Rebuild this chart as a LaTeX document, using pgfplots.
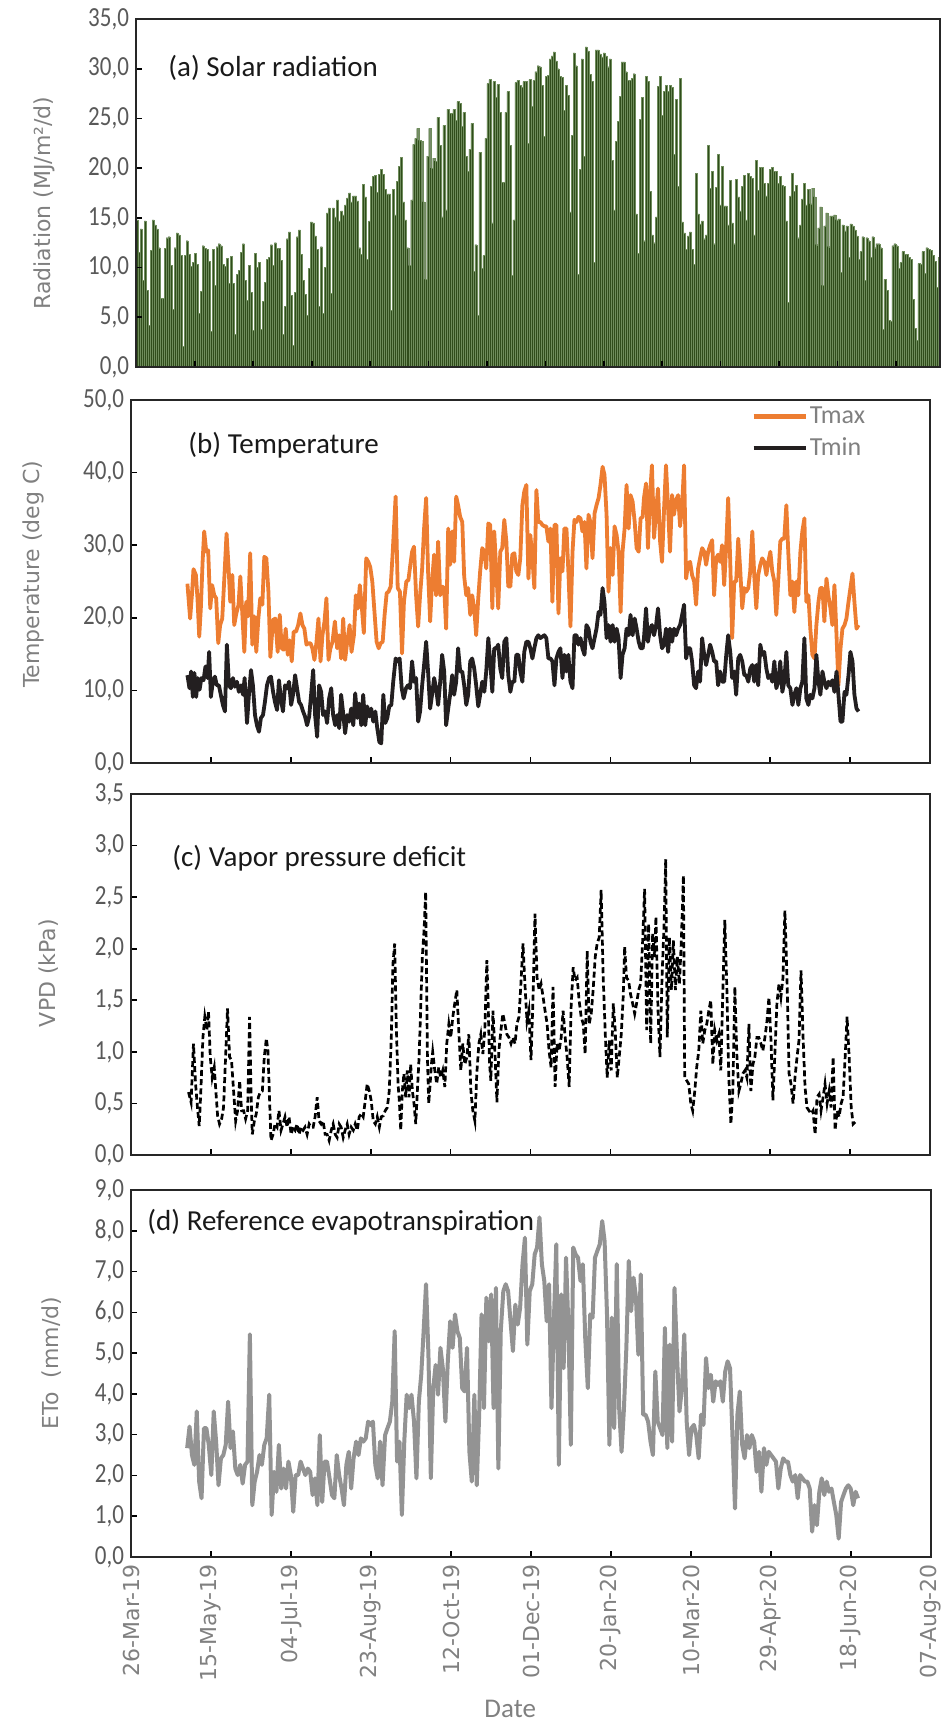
\documentclass[border=0pt]{standalone}
\usepackage{fontspec}
\setmainfont{Carlito}
\newfontfamily\dejavu{DejaVu Sans}
\usepackage{graphicx}
\usepackage{pgfplots}
\pgfplotsset{compat=1.18}
\definecolor{tickgray}{HTML}{595959}
\definecolor{labgray}{HTML}{808080}
\definecolor{bargreen}{HTML}{304D1B}
\definecolor{baredge}{HTML}{6F8D5C}
\definecolor{tmaxc}{HTML}{ED7D31}
\definecolor{tminc}{HTML}{231F20}
\definecolor{etoc}{HTML}{939393}
\definecolor{framec}{HTML}{262626}
\pgfplotsset{
  myaxis/.style={
    scale only axis,
    anchor=north west,
    axis line style={draw=framec, line width=1pt},
    tick style={draw=black, line width=0.8pt},
    major tick length=3pt,
    tick align=inside,
    tick pos=left,
    yticklabel style={font=\fontsize{11.5}{13}\selectfont, text=tickgray},
    yticklabel={\scalebox{1}[1.2]{\pgfmathprintnumber{\tick}}},
    /pgf/number format/fixed,
    /pgf/number format/fixed zerofill,
    /pgf/number format/precision=1,
    /pgf/number format/use comma,
    /pgf/number format/assume math mode=true,
    ylabel style={font=\dejavu\fontsize{11}{13}\selectfont, text=labgray, anchor=center},
    ymin=0,
  },
  dateaxis/.style={
    xmin=0, xmax=500,
    xtick={0,50,...,500},
  },
}
\newcommand{\ttl}{\fontsize{14.5}{17}\selectfont\color{black!90}}
\begin{document}
\begin{tikzpicture}
\path[use as bounding box] (0,0) rectangle (471.5pt,-861.5pt);

% ---------------- (a) Solar radiation
\begin{axis}[myaxis, at={(68pt,-9.5pt)}, width=402pt, height=174pt,
  xmin=-0.5, xmax=400.5, ymax=35, ytick={0,5,...,35},
  xtick={28.9,58.0,87.2,116.3,145.4,174.6,203.7,232.8,261.9,291.1,320.2,349.3,378.5},
  xticklabels={}, axis on top,
  ylabel={Radiation (MJ/m²/d)},
  ylabel style={at={(axis description cs:-0.114,0.471)}}]
\addplot[ybar, bar width=1, fill=bargreen, draw=baredge, line width=0.18pt] table[header=false, x expr=\coordindex, y index=0, row sep=\\] {
14.8\\11.5\\13.9\\8.7\\14.7\\7.7\\4.2\\11.7\\14.8\\14.3\\
13.9\\12\\6.9\\6.9\\11.9\\13\\13.1\\10.2\\5.8\\12\\
13.5\\13.3\\11.2\\2.1\\11.2\\12.7\\11.3\\10.1\\10.5\\11.4\\
10.3\\5.4\\7.6\\12.2\\11.9\\11.8\\10.6\\3.6\\11.8\\8.2\\
12.1\\12.4\\12.2\\10.3\\10.1\\10.9\\8.4\\11.1\\8.4\\3.3\\
9.3\\9.7\\11.5\\12.4\\8.7\\6.7\\10.2\\7.5\\3.7\\11.4\\
10\\10.5\\3.8\\6.6\\8.5\\10.8\\11\\12.3\\10.2\\12.5\\
11.9\\11.9\\10.7\\3.3\\6.1\\12.9\\13.6\\7.2\\2.2\\7.5\\
13.1\\13.8\\11.3\\8.7\\7.3\\5.2\\9.9\\14.6\\14.5\\13.2\\
11.8\\6.1\\12.1\\5.4\\10\\15.5\\16\\7.4\\16\\15.1\\
16.8\\14.7\\15.7\\15.3\\16.3\\17\\17.5\\16.6\\17.2\\17.2\\
16.7\\12\\11.3\\18.4\\17.1\\10.8\\14.7\\18.2\\19.2\\19.3\\
17.6\\19.4\\19.9\\19.4\\17.9\\17.4\\17.4\\5.7\\17.9\\15.3\\
18.7\\20.2\\21.1\\
16.6\\14.8\\12\\10.2\\16.8\\22.4\\23\\24\\22.8\\22.7\\
16.6\\8.8\\21.2\\24\\20\\21\\20.7\\25.1\\22.3\\15.1\\
24.3\\15.8\\25.9\\25.5\\25.5\\25.9\\24.8\\26.7\\26.5\\24.2\\
25.6\\21.2\\19.7\\21.9\\24.5\\9.6\\12.3\\5.2\\21.6\\9.9\\
11.2\\23\\28.5\\28.9\\14.5\\28.7\\27.1\\28.4\\25.6\\18.6\\
18.6\\25.6\\27.7\\22.3\\9.2\\14.8\\28.6\\28.8\\28.3\\28.1\\
28.7\\28.7\\22.5\\28.9\\26.2\\28.8\\29.7\\30.3\\30.2\\28.3\\
23.2\\29.2\\29.3\\31\\31.3\\31.7\\30.8\\30\\29.2\\29.1\\
25.8\\28.3\\27.3\\15.6\\23.3\\31.6\\30.3\\9.3\\19.9\\31\\
21.2\\32.2\\31.8\\29.4\\28.7\\10.5\\31.9\\31.9\\31.5\\31.2\\
31.6\\31.3\\30.2\\31\\20.8\\15.8\\22.7\\24.7\\27.2\\30.7\\
30.7\\29.7\\28.8\\28.8\\29\\29.5\\15.4\\11.4\\24.9\\27.1\\
12.7\\29.2\\28.7\\17.7\\13.3\\12.5\\15.1\\28.2\\29.2\\25.3\\
27.7\\28.3\\
27.7\\28.3\\28.1\\21.4\\26.9\\18.2\\29\\14.6\\13.5\\11.8\\
13.2\\13.6\\11.8\\10.3\\19.5\\15.4\\14.4\\14.7\\12.9\\13.3\\
22.3\\18\\19.7\\12.4\\18.1\\21.4\\16.3\\20.2\\16.2\\16.2\\
14.3\\18.8\\14.5\\12.4\\18.9\\17.1\\15.7\\18.2\\19.3\\14.8\\
19.5\\19.2\\19\\13.3\\20.8\\17.8\\20.1\\20.1\\18.5\\17.2\\
18.5\\19.9\\20.1\\19.7\\19.7\\18.5\\19.2\\18.3\\18.2\\14.7\\
6.5\\17.2\\19.5\\17.7\\18.3\\13\\14.3\\16.9\\18.5\\16.3\\
17.9\\16.4\\18\\17.1\\12.3\\14\\16.1\\8.2\\14.2\\15.5\\
12.1\\15.2\\15.2\\15.3\\14.8\\14.9\\9.5\\14.3\\13.7\\14.2\\
11\\14.4\\14.2\\13.8\\13.2\\10.8\\11.6\\13.1\\8.7\\13\\
12.7\\11\\13.1\\12\\12.4\\12.4\\12\\3.8\\8.8\\7.7\\
4.7\\4.6\\12.2\\12.4\\12.2\\9.9\\10.5\\11.6\\11.3\\11.3\\
11\\10.8\\6.8\\3.9\\2.7\\10.4\\10.3\\11.6\\9.4\\12\\
11.8\\11.7\\11.2\\10.6\\8\\11\\
};
\end{axis}
\node[anchor=west, inner sep=0pt] at (84pt,-34pt) {\ttl (a) Solar radiation};

% ---------------- (b) Temperature
\begin{axis}[myaxis, dateaxis, at={(65.5pt,-200pt)}, width=399.5pt, height=181.5pt,
  ymax=50, ytick={0,10,...,50}, xticklabels={},
  ylabel={Temperature (deg C)},
  ylabel style={at={(axis description cs:-0.1227,0.52)}},
  legend style={at={(axis description cs:0.776,0.988)}, anchor=north west, draw=none, fill=none,
    font=\fontsize{13}{14}\selectfont, text=labgray, row sep=3.5pt, inner sep=0pt,
    nodes={inner sep=1pt}},
  legend image code/.code={\draw[#1, line width=2.2pt] (0pt,0pt) -- (26pt,0pt);},
  legend cell align=left]
\addplot[tmaxc, line width=1.9pt, line join=round] coordinates {
(35.3,24.7)(37.0,19.9)(38.1,23.1)(39.1,26.7)(40.6,25.9)(41.6,22.7)(42.7,17.4)(43.7,21.3)(44.8,27.7)(45.8,31.9)(47.1,29.1)(48.3,29.3)(49.6,21.3)(50.8,24.5)(52.1,23.1)(53.3,22.7)(54.6,16.5)(55.8,19)(57.1,19.9)(58.5,25.9)(59.8,31.6)(61.1,26.8)(62.1,22.2)(63.4,25.9)(64.6,19)(65.9,20.6)(67.3,21.8)(68.4,25.7)(69.6,20.8)(70.9,15.3)(72.1,22.2)(73.2,20.2)(74.6,28.9)(75.9,16.3)(77.2,20.2)(78.4,15.3)(79.7,19.9)(80.9,22.7)(82.2,21.8)(83.4,28.4)(84.7,28.2)(86.0,23.6)(87.2,14.6)(88.9,19.7)(90.3,19.9)(91.8,15.3)(93.1,20.4)(94.3,15.8)(95.6,15.6)(96.8,18.5)(98.1,14.9)(99.3,16.9)(100.6,14)(101.8,18.1)(103.3,18.1)(104.6,19)(106.0,20.6)(107.3,19)(108.5,18.5)(109.8,16.3)(111.0,16.5)(112.3,16.5)(113.5,15.8)(114.8,14.2)(116.1,16.7)(117.3,19.9)(118.6,14)(119.8,17.6)(121.1,19.5)(122.3,22.7)(123.6,14.2)(124.8,15.8)(126.1,16.7)(127.6,19.5)(129.0,15.8)(130.3,17.6)(131.5,14.4)(132.8,19.9)(134.0,14.2)(135.3,16.7)(136.8,19)(138.0,15.3)(139.5,17.6)(140.7,23.1)(142.0,21.3)(143.2,24.5)(144.5,21.3)(145.7,17.9)(147.2,28.2)(148.5,27.7)(149.7,27)(151.0,25)(152.2,21.3)(153.7,16.7)(155.0,15.8)(156.2,16.5)(157.5,16.7)(158.7,20.4)(160.0,23.4)(161.2,23.6)(162.5,24.3)(163.7,28.7)(165.6,36.7)(166.9,24.1)(168.3,23.6)(169.6,15.1)(170.8,22.2)(172.3,25)(173.6,25.2)(174.8,27.3)
(175.9,29.1)(177.1,29.8)(178.4,23.1)(179.7,18.8)(180.9,23.1)(182.2,26.8)(183.4,32.3)(184.7,36.5)(185.9,26.4)(187.2,19.5)(188.4,25)(189.7,28.7)(190.9,23.1)(192.2,30.5)(193.5,23.1)(194.7,24.3)(196.0,24.1)(197.2,18.5)(198.5,32.3)(199.7,27.3)(201.0,31.9)(202.2,27.7)(203.5,36.7)(204.7,35.5)(206.0,33.9)(207.3,33.2)(208.5,25.7)(209.8,23.1)(211.0,24.1)(212.3,20.4)(213.5,23.1)(214.8,21.3)(216.0,17.6)(217.3,22.7)(218.5,26.4)(219.8,29.6)(221.1,29.1)(222.3,26.8)(223.6,33)(224.8,32.8)(226.1,21.3)(227.3,31.9)(228.6,26.4)(229.8,21.3)(231.1,29.1)(232.3,29.6)(233.6,33.5)(234.9,30.5)(236.1,24.3)(237.4,24.3)(238.6,28.7)(239.9,28.9)(241.1,26.4)(242.4,25.9)(243.6,28.2)(244.9,35.5)(246.1,37.4)(247.4,38.3)(248.7,25.4)(249.9,31.4)(251.2,28.2)(252.4,24.1)(253.7,37.6)(254.9,33.2)(256.2,33.2)(257.4,32.8)(258.7,32.6)(259.9,32.6)(261.2,30.5)(262.5,32.3)(263.7,22.2)(265.0,32.8)(266.2,32.8)(267.5,20.6)(268.7,28.2)(270.0,26.4)(271.2,32.3)(272.5,32.3)(273.7,26.4)(275.0,18.8)(276.3,29.1)(277.5,33.5)(278.8,33.2)(280.0,33.9)(281.3,33.7)(282.5,31.9)(283.8,33.2)(285.0,26.8)(286.3,34.2)(287.5,33.2)(288.8,28.2)(290.1,34.4)(291.3,35.5)(292.6,36.5)(293.8,38.3)(295.1,40.8)(296.3,39.7)(297.6,34.2)(298.8,23.6)(300.1,29.6)(301.4,25.9)(302.6,32.6)(303.9,31.4)(305.1,29.1)(306.4,20.8)(307.6,29.1)(308.9,32.3)(310.1,38.3)(311.4,32.3)(312.6,36.9)(313.9,36)(315.2,33.2)(316.4,29.6)(317.7,29.1)(318.9,33.7)(320.2,33.9)
(321.0,36.5)(322.3,38.5)(323.5,29.6)(324.8,36.9)(326.0,41)(327.3,31)(328.6,34.7)(329.8,37.8)(331.1,30.5)(332.3,27.7)(333.6,35.1)(334.8,41)(336.1,35.1)(337.3,29.1)(338.6,36.9)(339.8,34.2)(341.1,36.2)(342.4,36.9)(343.6,32.6)(344.9,35.5)(346.1,41)(347.4,25.4)(348.6,27.5)(349.9,27.7)(351.1,25.9)(352.4,25)(353.6,21.8)(354.9,26.8)(356.1,28.2)(357.4,29.6)(358.7,29.1)(359.9,27.3)(361.2,29.1)(362.4,30)(363.7,30.7)(364.9,23.1)(366.2,28.2)(367.4,28.7)(368.7,27.7)(369.9,30)(371.2,24.5)(372.5,30)(373.7,36.5)(375.0,27.7)(376.2,17.2)(377.5,25)(378.7,25)(380.0,30.9)(381.2,26.8)(382.5,21.3)(383.8,24.1)(385.0,23.6)(386.3,24.1)(387.5,26.4)(388.8,31.9)(390.0,25.9)(391.3,21.3)(392.5,25.9)(393.8,27.3)(395.0,28.2)(396.3,27.7)(397.6,25.9)(398.8,27.7)(400.1,29.1)(401.3,26.4)(402.6,25)(403.8,20.4)(405.1,25.4)(406.3,30.5)(407.6,30.9)(408.8,30.9)(410.1,35.5)(411.3,29.1)(412.6,23.1)(413.9,25)(415.1,20.8)(416.4,25)(417.6,23.1)(418.9,29.1)(420.1,31.9)(421.4,33.7)(422.6,22.2)(423.9,23.1)(425.1,18.5)(426.4,14.9)(427.7,14.4)(428.9,19)(430.2,22.2)(431.4,24.1)(432.7,24.1)(433.9,19.5)(435.2,25.4)(436.4,23.1)(437.7,21.3)(438.9,19)(440.2,24.5)(441.5,17.6)(442.7,10.7)(444.0,15.8)(445.2,18.5)(446.5,19)(447.7,19.9)(449.0,22.2)(450.2,24.1)(451.5,26.1)(452.7,22.2)(454.0,18.5)(455.3,19)
};
\addlegendentry{Tmax}
\addplot[tminc, line width=1.9pt, line join=round] coordinates {
(35.3,12.1)(36.6,10.3)(37.6,12.6)(38.7,9.1)(39.7,12.4)(40.8,9.1)(41.8,11.7)(42.9,10.1)(44.1,11.7)(45.4,11.4)(46.6,13.3)(47.9,11.7)(48.9,15.3)(50.0,9.1)(51.2,11.2)(52.5,11.9)(53.7,10.7)(55.0,10.7)(56.2,9.4)(57.5,8)(58.8,7.1)(60.0,16.3)(61.3,10.7)(62.5,10.3)(63.8,11.7)(65.0,10.5)(66.3,11.2)(67.5,9.8)(68.8,10.7)(70.1,9.4)(71.1,11.7)(72.6,5.5)(73.8,9.4)(75.1,12.8)(76.3,10.7)(77.6,6.6)(78.8,5.2)(80.1,4.3)(81.3,6.2)(82.6,6.6)(83.8,8.4)(85.1,10.7)(86.4,11.7)(87.6,11.9)(88.9,9.8)(90.1,8.4)(91.4,7.3)(92.6,11.4)(93.9,8.7)(95.1,7.1)(96.4,10.7)(97.7,10.3)(98.9,11.2)(100.2,8)(101.4,9.4)(102.7,12.1)(103.9,10.3)(105.2,8.4)(106.4,8)(107.7,7.1)(108.9,6.4)(110.2,5.2)(111.5,6.4)(112.7,9.4)(114.0,12.8)(115.2,6.6)(116.5,3.6)(117.7,10.7)(119.0,9.8)(120.2,6.6)(121.5,7.1)(122.7,5.5)(124.0,8.9)(125.3,10.3)(126.5,6.6)(127.8,5.2)(129.0,6.6)(130.3,4.8)(131.5,9.4)(132.8,6.8)(134.0,4.1)(135.3,6.6)(136.5,5.7)(137.8,7.5)(139.1,5.2)(140.3,9.6)(141.6,6.2)(142.8,8.2)(144.1,5.2)(145.3,9.4)(146.6,5.2)(147.8,7.8)(149.1,6.4)(150.3,7.5)(151.6,5.7)(152.9,7.1)(154.1,4.8)(155.4,2.9)(156.6,2.7)(157.9,9.4)(159.1,5.5)(160.4,6.2)(161.6,7.8)(162.9,8)(164.1,11.2)(165.6,14.4)(166.9,14)(168.1,14.4)(169.4,10.3)(170.6,8.9)(172.1,10.3)(173.3,10.7)(174.6,10.3)
(175.9,14)(177.1,11.2)(178.4,11.7)(179.7,5.7)(180.9,7.1)(182.2,10.7)(183.4,13.5)(184.7,16.7)(185.9,12.6)(187.2,7.5)(188.4,9.4)(189.7,11.7)(190.9,10.3)(192.2,8)(193.5,11.2)(194.7,14.9)(196.0,12.6)(197.2,5.2)(198.5,7.5)(199.7,9.4)(201.0,12.1)(202.2,9.4)(203.5,11.2)(204.7,15.8)(206.0,12.6)(207.3,12.6)(208.5,10.7)(209.8,8)(211.0,9.4)(212.3,14)(213.5,14.4)(214.8,13)(216.0,10.7)(217.3,7.8)(218.5,9.4)(219.8,11.2)(221.1,9.8)(222.3,12.6)(223.6,17.2)(224.8,14)(226.1,9.8)(227.3,15.8)(228.6,15.8)(229.8,16.3)(231.1,13)(232.3,11.7)(233.6,16.7)(234.9,17.2)(236.1,12.1)(237.4,9.8)(238.6,11.2)(239.9,11.2)(241.1,14.9)(242.4,14.9)(243.6,12.6)(244.9,11.2)(246.1,15.3)(247.4,16.7)(248.7,16.7)(249.9,15.8)(251.2,14.4)(252.4,15.8)(253.7,17.2)(254.9,17.6)(256.2,17.2)(257.4,17.4)(258.7,17.6)(259.9,17.2)(261.2,14.4)(262.5,14.4)(263.7,14)(265.0,10.7)(266.2,14.4)(267.5,15.3)(268.7,15.8)(270.0,11.7)(271.2,14.9)(272.5,12.6)(273.7,14.9)(275.0,11.2)(276.3,10.3)(277.5,17.6)(278.8,17.6)(280.0,16.3)(281.3,17.2)(282.5,15.8)(283.8,14.9)(285.0,19)(286.3,18.5)(287.5,16.7)(288.8,15.8)(290.1,17.2)(291.3,18.5)(292.6,20.8)(293.8,20.4)(295.1,24.1)(296.3,22.2)(297.6,17.2)(298.8,19)(300.1,16.7)(301.4,19)(302.6,16.7)(303.9,18.5)(305.1,17.2)(306.4,11.7)(307.6,14.9)(308.9,15.8)(310.1,18.5)(311.4,17.6)(312.6,20.4)(313.9,17.6)(315.2,19.9)(316.4,18.5)(317.7,16.7)(318.9,15.8)(320.2,15.8)
(321.0,17.2)(322.3,21.3)(323.5,16.7)(324.8,18.5)(326.0,19)(327.3,17.6)(328.6,19)(329.8,21.3)(331.1,17.6)(332.3,15.8)(333.6,16.3)(334.8,18.5)(336.1,15.3)(337.3,18.5)(338.6,16.7)(339.8,18.5)(341.1,17.6)(342.4,18.5)(343.6,19)(344.9,20.4)(346.1,21.8)(347.4,14.4)(348.6,15.8)(349.9,15.8)(351.1,14)(352.4,10.7)(353.6,10.3)(354.9,12.6)(356.1,11.2)(357.4,17.2)(358.7,14.9)(359.9,13.5)(361.2,14.9)(362.4,16.3)(363.7,15.3)(364.9,14)(366.2,14)(367.4,10.7)(368.7,12.6)(369.9,11.2)(371.2,11.2)(372.5,14.9)(373.7,17.6)(375.0,15.3)(376.2,11.7)(377.5,12.6)(378.7,9.4)(380.0,14.4)(381.2,14.9)(382.5,14)(383.8,12.1)(385.0,12.1)(386.3,11.2)(387.5,13)(388.8,13.5)(390.0,11.2)(391.3,13.5)(392.5,10.7)(393.8,16.3)(395.0,14.9)(396.3,15.3)(397.6,13)(398.8,11.7)(400.1,12.1)(401.3,11.2)(402.6,14)(403.8,10.3)(405.1,11.2)(406.3,14)(407.6,9.8)(408.8,11.2)(410.1,15.3)(411.3,10.7)(412.6,10.3)(413.9,8)(415.1,9.4)(416.4,10.3)(417.6,8)(418.9,10.3)(420.1,11.2)(421.4,17.2)(422.6,8.9)(423.9,8)(425.1,9.4)(426.4,8.9)(427.7,10.3)(428.9,14.9)(430.2,11.2)(431.4,9.4)(432.7,12.6)(433.9,11.2)(435.2,10.3)(436.4,11.2)(437.7,10.7)(438.9,11.4)(440.2,9.8)(441.5,12.6)(442.7,9.4)(444.0,5.7)(445.2,5.7)(446.5,9.8)(447.7,9.4)(449.0,12.1)(450.2,15.3)(451.5,14)(452.7,9.4)(454.0,7.5)(455.3,7.1)
};
\addlegendentry{Tmin}
\end{axis}
\node[anchor=west, inner sep=0pt] at (94pt,-222.5pt) {\ttl (b) Temperature};

% ---------------- (c) VPD
\begin{axis}[myaxis, dateaxis, at={(65.5pt,-397pt)}, width=399.5pt, height=180.5pt,
  ymax=3.5, ytick={0,0.5,...,3.5}, xticklabels={},
  ylabel={VPD (kPa)},
  ylabel style={at={(axis description cs:-0.1026,0.504)}}]
\addplot[black, line width=1.35pt, dash pattern=on 3pt off 1.6pt] coordinates {
(36.0,0.61)(37.6,0.51)(39.1,1.08)(40.4,0.69)(41.6,0.46)(42.7,0.28)(43.7,0.62)(45.0,1.14)(46.2,1.34)(47.5,1.21)(48.5,1.39)(49.6,0.95)(50.8,0.75)(52.1,0.85)(53.1,0.62)(54.2,0.38)(55.4,0.3)(56.7,0.35)(57.9,0.46)(59.2,0.95)(60.4,1.42)(61.7,0.95)(62.9,0.92)(64.2,0.62)(65.5,0.33)(66.7,0.43)(68.0,0.72)(69.2,0.43)(70.5,0.43)(71.7,0.35)(73.0,0.43)(74.2,1.34)(75.1,0.62)(75.9,0.2)(77.2,0.33)(78.4,0.4)(79.7,0.56)(80.9,0.61)(82.2,0.62)(83.4,0.95)(84.7,1.13)(85.7,1.01)(86.8,0.5)(87.6,0.14)(88.9,0.2)(90.1,0.3)(91.4,0.27)(92.6,0.43)(93.9,0.24)(95.1,0.3)(96.4,0.37)(97.7,0.27)(98.9,0.37)(100.2,0.2)(101.4,0.27)(102.7,0.24)(103.9,0.3)(105.2,0.2)(106.4,0.27)(107.7,0.24)(108.9,0.27)(110.2,0.2)(111.5,0.3)(112.7,0.27)(114.0,0.27)(115.2,0.37)(116.5,0.56)(117.7,0.33)(119.0,0.3)(120.2,0.33)(121.5,0.2)(122.7,0.2)(124.0,0.14)(125.3,0.24)(126.5,0.3)(127.8,0.2)(129.0,0.17)(130.3,0.3)(131.5,0.27)(132.8,0.17)(134.0,0.24)(135.3,0.3)(136.5,0.2)(137.8,0.27)(139.1,0.24)(140.3,0.3)(141.6,0.24)(142.8,0.37)(144.1,0.4)(145.3,0.37)(146.6,0.53)(147.8,0.69)(149.1,0.62)(150.3,0.53)(151.6,0.33)(152.9,0.3)(154.1,0.37)(155.4,0.27)(156.6,0.37)(157.9,0.38)(159.1,0.43)(160.4,0.46)(161.6,0.62)(162.9,1.14)(163.9,1.85)(165.0,2.05)(166.0,1.27)(167.1,0.69)(167.9,0.53)(168.8,0.24)(169.8,0.62)(170.8,0.79)(171.9,0.56)(172.9,0.82)(174.0,0.56)(175.0,0.88)(176.1,0.62)(177.1,0.5)(178.2,0.3)(179.2,0.62)(180.3,0.95)(181.3,1.43)(182.3,1.92)(183.4,2.18)(184.4,2.55)(185.5,0.95)(186.3,0.5)(187.2,0.69)(188.0,0.88)(188.8,1)(190.1,0.82)(191.3,0.69)(192.6,0.85)(193.8,0.75)(195.1,0.82)(196.4,0.66)(197.6,1.08)(198.9,1.27)(200.1,1.14)(201.4,1.34)(202.6,1.47)(203.9,1.6)(205.1,1.21)(206.4,0.82)(207.6,1.08)(208.9,0.88)(210.2,0.95)(211.4,1.17)(212.7,0.62)(213.9,0.43)(215.2,0.33)(216.4,0.79)(217.7,1.08)(218.9,1.17)(220.2,0.98)(221.4,1.21)(222.7,1.89)(223.5,1.47)(224.4,0.88)(225.2,0.72)(226.5,1.4)(227.7,1.01)(229.0,0.51)(230.2,1.01)(231.5,1.21)(232.7,1.37)(234.0,1.27)(235.2,1.17)(236.5,1.14)(237.8,1.08)(239.0,1.14)(240.3,1.08)(241.5,1.27)(242.8,1.34)(244.0,1.66)(245.3,2.05)(246.5,1.66)(247.8,1.3)(249.0,1.4)
(250.3,0.92)(251.6,1.53)(252.8,2.34)(254.1,1.72)(255.4,1.6)(256.6,1.66)(257.9,1.53)(259.1,1.4)(260.4,1.27)(261.6,1.01)(262.9,0.85)(264.1,1.63)(265.4,0.66)(266.6,1.08)(267.9,1.01)(269.2,1.14)(270.4,1.4)(271.7,1.14)(272.9,0.95)(274.2,0.66)(275.4,1.43)(276.7,1.82)(277.9,1.69)(279.2,1.72)(280.4,1.5)(281.7,1.34)(283.0,1.27)(284.2,0.98)(285.5,1.98)(286.7,1.27)(288.0,1.37)(289.2,1.6)(290.5,1.92)(291.7,2.05)(293.0,2.11)(294.2,2.57)(295.5,1.72)(296.8,1.17)(298.0,0.75)(299.3,1.11)(300.5,0.82)(301.8,1.47)(303.0,1.21)(304.3,0.75)(305.5,0.95)(306.8,1.17)(308.0,1.53)(308.9,2.02)(310.1,1.72)(311.4,1.69)(312.6,1.56)(313.9,1.47)(315.2,1.37)(316.4,1.47)(317.7,1.6)(318.9,1.66)(320.2,2.08)(321.4,2.58)(322.7,1.21)(323.9,2.24)(325.2,1.08)(326.4,2.15)(327.7,1.92)(328.5,2.31)(329.8,1.4)(331.0,0.95)(332.3,1.72)(333.6,2.24)(334.6,2.87)(335.6,1.14)(336.9,2.11)(338.2,1.6)(339.4,2.08)(340.7,1.6)(341.9,1.92)(343.2,1.66)(344.4,2.08)(345.7,2.71)(346.5,0.75)(347.8,0.72)(349.0,0.69)(350.3,0.5)(351.5,0.43)(352.8,0.62)(354.0,0.85)(355.3,1.01)(356.6,1.4)(357.8,1.08)(359.1,1.21)(360.3,1.27)(361.6,1.4)(362.8,1.5)(364.1,0.88)(365.3,1.21)(366.6,1.11)(367.8,1.17)(369.1,0.82)(370.4,1.6)(371.6,2.28)(372.9,1.6)(374.1,0.75)(375.4,0.3)(376.6,0.62)(377.9,1.63)(379.1,0.98)(380.4,0.62)(381.6,0.69)(382.9,0.79)(384.2,0.82)(385.4,0.75)(386.7,1.27)(387.9,0.62)(389.2,0.88)(390.4,0.95)(391.7,1.14)(392.9,1.14)(394.2,1.08)(395.4,1.01)(396.7,1.14)(398.0,1.3)(399.2,1.53)(400.5,1.11)(401.7,0.53)(403.0,1.01)(404.2,1.47)(405.5,1.66)(406.7,1.53)(408.0,1.72)(409.2,2.37)(410.5,1.72)(411.8,0.79)(413.0,0.69)(414.3,0.5)(415.5,0.75)(416.8,0.95)(418.0,1.11)(419.3,1.79)(420.5,1.17)(421.8,0.66)(423.0,0.46)(424.3,0.43)(425.6,0.4)(426.8,0.43)(428.1,0.2)(429.3,0.56)(430.6,0.59)(431.8,0.43)(433.1,0.56)(434.3,0.69)(435.6,0.5)(436.9,0.62)(438.1,0.46)(439.4,0.95)(440.6,0.24)(441.9,0.43)(443.1,0.37)(444.4,0.5)(445.6,0.56)(446.9,0.95)(448.1,1.34)(449.4,0.95)(450.7,0.46)(451.9,0.3)(453.2,0.32)
};
\end{axis}
\node[anchor=west, inner sep=0pt] at (86pt,-429pt) {\ttl (c) Vapor pressure deficit};

% ---------------- (d) ETo
\begin{axis}[myaxis, dateaxis, at={(65.5pt,-595pt)}, width=400pt, height=183.5pt,
  ymax=9, ytick={0,1,...,9},
  xticklabels={26-Mar-19,15-May-19,04-Jul-19,23-Aug-19,12-Oct-19,01-Dec-19,20-Jan-20,10-Mar-20,29-Apr-20,18-Jun-20,07-Aug-20},
  xticklabel style={rotate=90, anchor=east, font=\dejavu\fontsize{11}{13}\selectfont, text=labgray},
  ylabel={ETo~ (mm/d)},
  ylabel style={at={(axis description cs:-0.0989,0.529)}},
  xlabel={Date},
  xlabel style={at={(axis description cs:0.474,-0.414)}, anchor=center, font=\fontsize{13.5}{15}\selectfont, text=labgray}]
\addplot[etoc, line width=2pt, line join=round] coordinates {
(35.1,2.67)(36.6,3.2)(38.1,2.5)(39.6,2.26)(41.1,3.57)(42.6,1.85)(44.1,1.44)(45.6,3.16)(47.1,3.16)(48.6,2.75)
(50.2,2.01)(51.7,3.57)(53.2,2.83)(54.7,1.76)(56.2,2.42)(57.7,2.5)(59.2,2.75)(60.7,3.81)(62.2,2.67)(63.7,3.08)
(65.2,2.17)(66.7,2.01)(68.3,2.26)(69.8,1.8)(71.3,2.26)(72.8,2.34)(74.3,5.46)(75.8,1.27)(77.3,1.85)(78.8,2.09)
(80.3,2.5)(81.8,2.26)(83.3,2.75)(84.8,2.91)(86.4,3.98)(87.9,1.03)(89.4,2.09)(90.9,1.6)(92.4,2.75)(93.9,1.68)
(95.4,2.17)(96.9,1.68)(98.4,2.34)(99.9,2.01)(101.4,1.11)(102.9,2.01)(104.5,2.01)(106.0,2.34)(107.5,2.17)(109.0,2.01)
(110.5,2.17)(112.0,2.09)(113.5,1.52)(115.0,1.93)(116.5,1.27)(118.0,2.99)(119.5,1.35)(121.0,2.34)(122.5,2.34)(124.1,1.93)
(125.6,1.52)(127.1,1.44)(128.6,2.5)(130.1,2.01)(131.6,1.68)(133.1,1.27)(134.6,2.26)(136.1,2.58)(137.6,1.68)(139.1,2.42)
(140.7,2.83)(142.2,2.5)(143.7,2.91)(145.2,2.83)(146.7,2.91)(148.2,3.32)(149.7,3.24)(151.2,3.32)(152.7,2.26)(154.2,1.93)
(155.7,2.83)(157.2,1.76)(158.8,2.99)(160.3,3.16)(161.8,3.32)(163.3,3.81)(164.8,5.54)(166.3,2.34)(167.8,2.83)(169.3,1.03)
(170.8,2.83)(172.3,3.98)(173.8,3.65)(175.3,3.98)(176.9,3.32)(178.4,1.93)(179.9,3.81)(181.4,4.47)(182.9,5.54)(184.4,6.69)
(185.9,4.96)(187.4,1.93)(188.9,4.14)(190.4,4.71)(191.9,3.98)(193.4,5.13)(194.9,4.63)(196.5,3.32)(198.0,4.8)(199.5,5.78)
(201.0,5.13)(202.5,5.95)(204.0,5.54)(205.5,5.37)(207.0,4.14)(208.5,4.06)(210.0,5.13)(211.5,2.58)(213.0,1.85)(214.6,3.98)
(216.1,1.76)(217.6,3.49)(219.1,5.95)(220.6,3.65)(222.1,6.36)(223.6,5.29)(225.1,6.44)(226.6,3.65)(228.1,6.6)(229.6,2.17)
(231.1,5.54)(232.7,6.52)(234.2,6.69)(235.7,6.52)(237.2,5.78)(238.7,5.05)(240.2,6.19)(241.7,5.7)(243.2,6.11)(244.7,7.18)
(246.2,7.83)(247.7,5.21)(249.2,6.52)(250.8,6.69)(252.3,7.42)(253.8,7.59)(255.3,8.33)(256.8,7.18)(258.3,6.77)(259.8,5.78)
(261.3,6.69)(262.8,3.65)(264.3,5.78)(265.8,7.67)(267.4,2.26)(268.9,6.44)(270.4,4.63)(271.9,7.34)(273.4,5.62)(274.9,2.75)
(276.4,7.59)(277.9,7.42)(279.4,7.34)(280.9,6.77)(282.4,7.18)(283.9,5.37)(285.5,4.14)(287.0,5.95)(288.5,5.87)(290.0,7.34)
(291.5,7.51)(293.0,7.67)(294.5,8.24)(296.0,7.75)(297.5,5.95)(299.0,2.75)(300.5,5.87)(302.0,3.16)(303.6,7.18)(305.1,3.65)
(306.6,2.58)(308.1,3.65)(309.6,5.13)(311.1,7.26)(312.6,6.03)(314.1,6.85)(315.6,6.36)(317.1,4.96)(318.6,6.93)(320.1,3.49)
(321.6,3.49)(323.2,3.32)(324.7,2.83)(326.2,2.5)(327.7,4.55)(329.2,3.32)(330.7,3.16)(332.2,2.99)(333.7,5.62)(335.2,2.67)
(336.7,5.21)(338.2,2.83)(339.7,6.6)(341.3,4.88)(342.8,3.57)(344.3,4.14)(345.8,5.46)(347.3,3.32)(348.8,2.5)(350.3,3.16)
(351.8,3.24)(353.3,2.99)(354.8,2.42)(356.3,3.49)(357.8,3.24)(359.4,4.88)(360.9,4.14)(362.4,4.47)(363.9,3.81)(365.4,4.31)
(366.9,4.22)(368.4,4.31)(369.9,3.81)(371.4,4.55)(372.9,4.8)(374.4,4.63)(375.9,2.99)(377.5,1.19)(379.0,3.49)(380.5,4.06)
(382.0,2.75)(383.5,2.42)(385.0,2.99)(386.5,2.67)(388.0,2.99)(389.5,2.83)(391.0,2.09)(392.5,2.58)(394.0,1.6)(395.6,2.67)
(397.1,2.26)(398.6,2.58)(400.1,2.5)(401.6,2.42)(403.1,2.34)(404.6,1.68)(406.1,2.17)(407.6,2.42)(409.1,2.34)(410.6,2.34)
(412.1,2.01)(413.6,1.85)(415.2,2.01)(416.7,1.44)(418.2,2.01)(419.7,1.93)(421.2,1.85)(422.7,1.85)(424.2,1.68)(425.7,0.62)
(427.2,1.27)(428.7,0.78)(430.2,1.6)(431.7,1.93)(433.3,1.52)(434.8,1.85)(436.3,1.6)(437.8,1.68)(439.3,1.35)(440.8,1.03)
(442.3,0.45)(443.8,1.35)(445.3,1.52)(446.8,1.68)(448.3,1.76)(449.8,1.68)(451.4,1.27)(452.9,1.6)(454.4,1.44)
};
\end{axis}
\node[anchor=west, inner sep=0pt] at (73.5pt,-611pt) {\ttl (d) Reference evapotranspiration};
\end{tikzpicture}
\end{document}
